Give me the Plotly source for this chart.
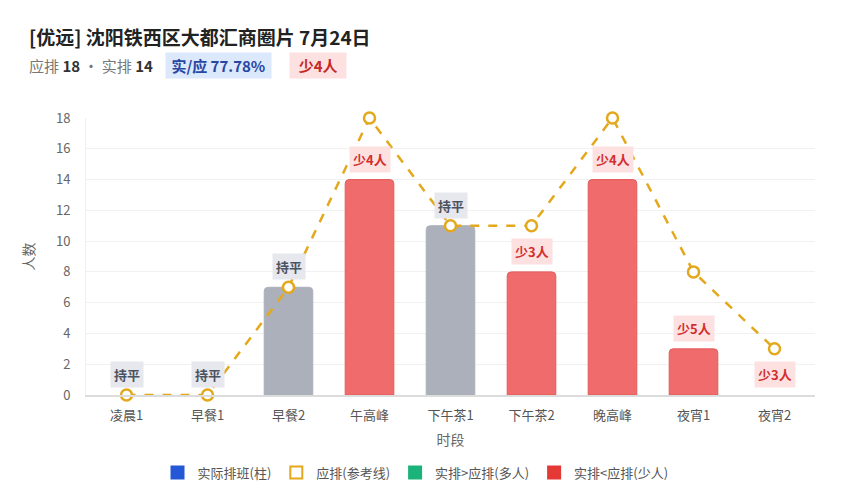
import plotly.graph_objects as go

# 时段与排班数据
slots = ["凌晨1", "早餐1", "早餐2", "午高峰", "下午茶1", "下午茶2", "晚高峰", "夜宵1", "夜宵2"]
actual = [0, 0, 7, 14, 11, 8, 14, 3, 0]
planned = [0, 0, 7, 18, 11, 11, 18, 8, 3]

FONT = "Noto Sans CJK SC, Noto Sans, sans-serif"
GRAY_BAR = "#abb0bb"
RED_BAR = "#f06b6b"
GOLD = "#e3a81b"

bar_colors = []
line_colors = []
line_widths = []
for a, p in zip(actual, planned):
    if a < p:
        bar_colors.append(RED_BAR)
        line_colors.append("#e35a5a")
    elif a > p:
        bar_colors.append("#1bb37a")
        line_colors.append("#1bb37a")
    else:
        bar_colors.append(GRAY_BAR)
        line_colors.append(GRAY_BAR)
    line_widths.append(1 if a > 0 else 0)

fig = go.Figure()

fig.add_trace(go.Bar(
    x=slots, y=actual, width=0.6,
    marker=dict(color=bar_colors, line=dict(color=line_colors, width=line_widths), cornerradius=4),
    showlegend=False, hoverinfo="x+y",
))

fig.add_trace(go.Scatter(
    x=slots, y=planned, mode="lines+markers",
    line=dict(color=GOLD, width=2.5, dash="dash"),
    marker=dict(symbol="circle", size=11, color="white", line=dict(color=GOLD, width=2.5)),
    cliponaxis=False, showlegend=False,
))

# legend entries
legend_items = [
    ("实际排班(柱)", "square", "#2458d6"),
    ("应排(参考线)", "square-open", GOLD),
    ("实排>应排(多人)", "square", "#1bb37a"),
    ("实排<应排(少人)", "square", "#e53935"),
]
for name, sym, col in legend_items:
    fig.add_trace(go.Scatter(
        x=[None], y=[None], mode="markers", name=name,
        marker=dict(symbol=sym, size=13, color=col, line=dict(color=col, width=2)),
    ))

# labels above bars
for s, a, p in zip(slots, actual, planned):
    diff = a - p
    if diff == 0:
        txt, fg, bg = "持平", "#4b5260", "#e6e8ee"
    elif diff < 0:
        txt, fg, bg = f"少{-diff}人", "#d32f2f", "#fde1e1"
    else:
        txt, fg, bg = f"多{diff}人", "#138a5c", "#d9f3e7"
    fig.add_annotation(
        x=s, y=a, text=f"<b>{txt}</b>", showarrow=False,
        yanchor="bottom", yshift=7,
        font=dict(size=13, color=fg, family=FONT),
        bgcolor=bg, borderpad=3,
    )

# header
fig.add_annotation(
    xref="paper", yref="paper", x=-0.081, y=1.295, xanchor="left", yanchor="middle",
    text="<b>[优远] 沈阳铁西区大都汇商圈片 7月24日</b>", showarrow=False,
    font=dict(size=19, color="#222", family=FONT),
)
fig.add_annotation(
    xref="paper", yref="paper", x=-0.081, y=1.19, xanchor="left", yanchor="middle",
    text=("<span style='color:#777'>应排 </span><b>18</b>"
          "<span style='color:#777'> · 实排 </span><b>14</b>"),
    showarrow=False, font=dict(size=15, color="#333", family=FONT),
)
fig.add_annotation(
    xref="paper", yref="paper", x=0.109, y=1.19, xanchor="left", yanchor="middle",
    text="&nbsp;<b>实/应 77.78%</b>&nbsp;", showarrow=False,
    font=dict(size=15, color="#2747a3", family=FONT),
    bgcolor="#dce8fb", borderpad=2,
)
fig.add_annotation(
    xref="paper", yref="paper", x=0.278, y=1.19, xanchor="left", yanchor="middle",
    text="&nbsp;&nbsp;<b>少4人</b>&nbsp;&nbsp;", showarrow=False,
    font=dict(size=15, color="#c62828", family=FONT),
    bgcolor="#fde1e1", borderpad=2,
)

fig.update_layout(
    width=841, height=492,
    margin=dict(l=78, r=34, t=110, b=105),
    paper_bgcolor="white", plot_bgcolor="white",
    font=dict(family=FONT, color="#555"),
    legend=dict(orientation="h", x=0.452, xanchor="center",
                y=-0.28, yanchor="middle",
                font=dict(size=13, color="#555"), itemsizing="constant"),
    xaxis=dict(
        title=dict(text="时段", font=dict(size=14, color="#666"), standoff=12),
        tickfont=dict(size=13, color="#555"), ticklabelstandoff=8,
        showline=True, linecolor="#dcdcdc", linewidth=1.5, ticks="",
        showgrid=False, range=[-0.5, 8.5],
    ),
    yaxis=dict(
        title=dict(text="人数", font=dict(size=14, color="#666"), standoff=18),
        tickfont=dict(size=13, color="#666"), ticklabelstandoff=12,
        range=[0, 18], dtick=2, showgrid=True, gridcolor="#f1f1f1",
        zeroline=False, showline=True, linecolor="#f1f1f1",
    ),
)

fig.write_html("out.html")
